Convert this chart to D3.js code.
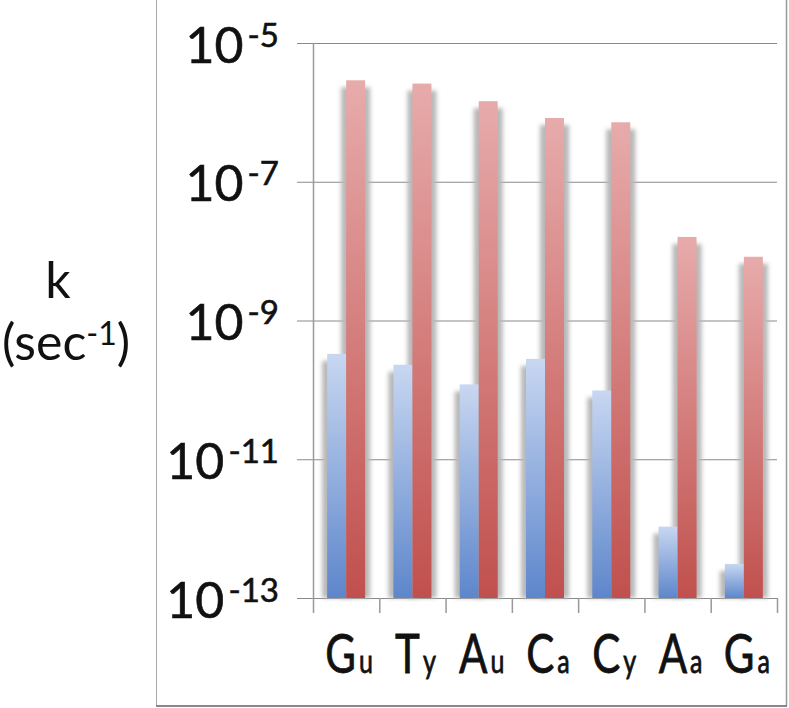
<!DOCTYPE html>
<html><head><meta charset="utf-8">
<script src="https://cdn.jsdelivr.net/npm/d3@7"></script>
<style>body{margin:0;background:#fff}svg{display:block}text{font-family:Lato,"Open Sans",sans-serif;fill:#111}</style>
</head><body>
<svg id="c" width="789" height="708"></svg>
<script>
const categories = ["G","T","A","C","C","A","G"];
const subscripts = ["u","y","u","a","y","a","a"];
const blueValues = [3.3e-10, 2.3e-10, 1.2e-10, 2.8e-10, 9.8e-11, 1.07e-12, 3.1e-13];
const redValues  = [2.9e-6, 2.6e-6, 1.45e-6, 8.3e-7, 7.2e-7, 1.6e-8, 8.3e-9];
const tickValues = [1e-5, 1e-7, 1e-9, 1e-11, 1e-13];
const tickExponents = ["-5","-7","-9","-11","-13"];

const svg = d3.select("#c");
const defs = svg.append("defs");
function grad(id, c0, c1){
  const g = defs.append("linearGradient").attr("id", id).attr("x1",0).attr("y1",0).attr("x2",0).attr("y2",1);
  g.append("stop").attr("offset","0%").attr("stop-color",c0);
  g.append("stop").attr("offset","100%").attr("stop-color",c1);
}
grad("gBlue", "#c8d7f1", "#5d86cb");
grad("gRed", "#e7abab", "#c0504d");
const f = defs.append("filter").attr("id","sh").attr("x","-50%").attr("y","-10%").attr("width","200%").attr("height","130%");
f.append("feGaussianBlur").attr("stdDeviation",2);

// frame
svg.append("line").attr("x1",156.5).attr("x2",156.5).attr("y1",0).attr("y2",706).attr("stroke","#aaa");
svg.append("line").attr("x1",786.5).attr("x2",786.5).attr("y1",0).attr("y2",706).attr("stroke","#999").attr("stroke-width",1.5);
svg.append("line").attr("x1",156).attr("x2",787).attr("y1",706).attr("y2",706).attr("stroke","#888").attr("stroke-width",2);

const x = d3.scaleBand().domain(d3.range(categories.length)).range([313, 777]).paddingInner(0).paddingOuter(0);
const y = d3.scaleLog().domain([1e-13, 1e-5]).range([598, 43]);

// gridlines + labels via axis
const yAxis = d3.axisLeft(y).tickValues(tickValues).tickSize(-(777-297)).tickFormat(() => "");
const gy = svg.append("g").attr("transform","translate(297,0)").call(yAxis);
gy.select(".domain").remove();
gy.selectAll(".tick line").attr("stroke","#8a8a8a").attr("stroke-width",1);
gy.selectAll(".tick text").remove();
gy.selectAll(".tick").each(function(d,i){
  const t = d3.select(this).append("text").attr("x",-18).attr("y",19).attr("text-anchor","end")
    .attr("stroke","#111").attr("stroke-width",0.6);
  t.append("tspan").attr("font-size",50).text("10");
  t.append("tspan").attr("font-size",33).attr("dy",-16).text("\u2009" + tickExponents[i]);
});

// y-axis line
svg.append("line").attr("x1",313.5).attr("x2",313.5).attr("y1",y(1e-5)).attr("y2",599).attr("stroke","#9a9a9a").attr("stroke-width",1.5);

// x ticks at category boundaries
const bounds = categories.map((c,i)=>x(i)).concat([x(categories.length-1)+x.bandwidth()]);
svg.append("g").selectAll("line").data(bounds).join("line")
  .attr("x1",d=>d+0.5).attr("x2",d=>d+0.5).attr("y1",598).attr("y2",613).attr("stroke","#999").attr("stroke-width",1.5);

// bars
const bw = 19;
const groups = svg.append("g").selectAll("g").data(categories.map((c,i)=>i)).join("g");
function shadows(vals, off){
  groups.append("rect")
    .attr("x", i => x(i)+x.bandwidth()/2 + off - 5).attr("width", bw+10)
    .attr("y", i => y(vals[i]) + 7).attr("height", i => 598 - y(vals[i]) - 7)
    .attr("fill","#b8b8b8").attr("filter","url(#sh)");
}
shadows(blueValues, -bw);
shadows(redValues, 0);
groups.append("rect").attr("x", i => x(i)+x.bandwidth()/2 - bw).attr("width", bw)
  .attr("y", i => y(blueValues[i])).attr("height", i => 598 - y(blueValues[i])).attr("fill","url(#gBlue)");
groups.append("rect").attr("x", i => x(i)+x.bandwidth()/2).attr("width", bw)
  .attr("y", i => y(redValues[i])).attr("height", i => 598 - y(redValues[i])).attr("fill","url(#gRed)");

// x labels
svg.append("g").selectAll("text").data(categories.map((c,i)=>i)).join("text")
  .attr("text-anchor","middle")
  .attr("stroke","#111").attr("stroke-width",0.6)
  .attr("transform", i => `translate(${x(i)+x.bandwidth()/2+3},673) scale(1,1.28)`)
  .each(function(i){
    const t = d3.select(this);
    t.append("tspan").attr("font-size",42).text(categories[i]);
    t.append("tspan").attr("font-size",25).attr("dx",3).text(subscripts[i]);
  });

// axis title
svg.append("text").attr("x",58).attr("y",298).attr("text-anchor","middle").attr("font-size",50).text("k");
const st = svg.append("text").attr("x",66).attr("y",360).attr("text-anchor","middle").attr("font-size",50);
st.append("tspan").text("(sec");
st.append("tspan").attr("font-size",32).attr("dy",-15).text("-1");
st.append("tspan").attr("dy",15).text(")");
</script>
</body></html>
